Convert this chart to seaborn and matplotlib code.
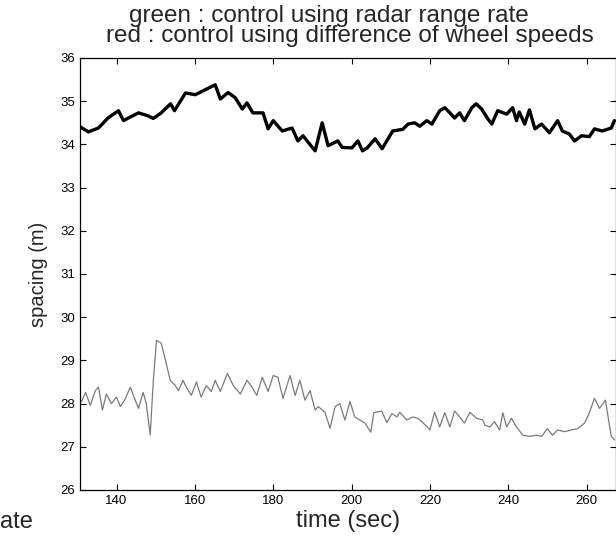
import seaborn as sns
import matplotlib.pyplot as plt
import pandas as pd

# spacing (sec, m)
t_green = [130.3, 132.8, 135.4, 137.8, 140.5, 141.8, 142.8, 145.6, 148.1, 149.4,
           151.4, 153.8, 154.8, 157.6, 160.1, 162.1, 165.2, 166.5, 168.5, 170.3,
           172.1, 173.3, 174.8, 177.4, 178.7, 180.0, 182.3, 184.8, 186.3, 187.6,
           190.7, 192.5, 194.0, 196.5, 197.6, 200.1, 201.6, 202.8, 204.0, 206.0,
           207.8, 210.5, 213.1, 214.4, 216.1, 217.4, 219.2, 220.5, 222.5, 223.8,
           225.1, 226.3, 227.6, 228.8, 230.7, 231.8, 233.2, 234.8, 235.8, 237.3,
           239.6, 241.1, 242.1, 242.8, 244.2, 245.4, 246.8, 248.5, 250.5, 252.6,
           253.8, 255.6, 256.9, 258.7, 260.7, 262.0, 264.0, 266.3, 267.1]
spacing_green = [34.43, 34.29, 34.38, 34.61, 34.78, 34.55, 34.60, 34.73, 34.66, 34.60,
                 34.73, 34.94, 34.78, 35.19, 35.15, 35.24, 35.38, 35.05, 35.20, 35.08,
                 34.82, 34.96, 34.73, 34.73, 34.36, 34.55, 34.31, 34.38, 34.08, 34.20,
                 33.85, 34.50, 33.97, 34.08, 33.93, 33.92, 34.08, 33.85, 33.92, 34.13,
                 33.90, 34.31, 34.35, 34.47, 34.50, 34.42, 34.55, 34.47, 34.78, 34.85,
                 34.73, 34.61, 34.73, 34.55, 34.85, 34.94, 34.82, 34.59, 34.47, 34.78,
                 34.70, 34.85, 34.55, 34.75, 34.47, 34.80, 34.36, 34.47, 34.27, 34.55,
                 34.31, 34.24, 34.08, 34.20, 34.18, 34.36, 34.31, 34.38, 34.55]

t_red = [130.3, 131.1, 132.1, 133.3, 134.6, 135.4, 136.4, 137.4, 138.7, 140.0,
         141.0, 142.3, 143.5, 144.6, 145.6, 146.8, 147.6, 148.6, 149.4, 150.2,
         151.4, 152.5, 153.7, 155.0, 155.8, 157.0, 157.8, 159.1, 160.4, 161.6,
         162.9, 164.2, 165.2, 166.5, 168.3, 169.8, 171.6, 173.3, 174.6, 175.8,
         177.2, 178.7, 180.0, 181.2, 182.5, 184.3, 185.6, 186.8, 188.1, 189.4,
         190.7, 191.5, 193.2, 194.5, 195.8, 197.0, 198.3, 199.6, 200.8, 202.1,
         203.4, 204.9, 205.7, 207.7, 209.0, 210.3, 211.6, 212.3, 214.1, 215.6,
         216.9, 218.2, 220.0, 221.2, 222.5, 223.8, 225.1, 226.3, 227.6, 228.8,
         230.2, 231.9, 233.5, 234.0, 235.3, 236.5, 237.8, 238.6, 239.6, 240.8,
         242.1, 243.7, 245.4, 247.2, 248.5, 250.0, 251.3, 252.6, 254.4, 256.1,
         257.7, 259.5, 260.7, 262.0, 263.3, 264.8, 265.6, 266.3, 267.1]
spacing_red = [28.12, 28.05, 28.26, 27.96, 28.30, 28.38, 27.85, 28.22, 28.00, 28.15,
               27.93, 28.12, 28.38, 28.12, 27.89, 28.26, 28.00, 27.27, 28.54, 29.46,
               29.40, 29.00, 28.54, 28.42, 28.30, 28.54, 28.38, 28.19, 28.50, 28.15,
               28.42, 28.28, 28.54, 28.28, 28.70, 28.42, 28.22, 28.54, 28.38, 28.19,
               28.61, 28.28, 28.65, 28.61, 28.12, 28.65, 28.19, 28.54, 28.08, 28.30,
               27.85, 27.93, 27.80, 27.43, 27.93, 28.00, 27.62, 28.05, 27.69, 27.62,
               27.55, 27.34, 27.79, 27.83, 27.56, 27.77, 27.69, 27.80, 27.62, 27.69,
               27.66, 27.56, 27.39, 27.80, 27.46, 27.79, 27.46, 27.83, 27.69, 27.55,
               27.80, 27.66, 27.62, 27.50, 27.46, 27.58, 27.39, 27.79, 27.46, 27.66,
               27.46, 27.27, 27.24, 27.27, 27.24, 27.42, 27.27, 27.39, 27.35, 27.39,
               27.42, 27.55, 27.79, 28.12, 27.89, 28.08, 27.62, 27.24, 27.16]

x_ticks = [140, 160, 180, 200, 220, 240, 260]
y_ticks = [26, 27, 28, 29, 30, 31, 32, 33, 34, 35, 36]

green = pd.DataFrame({'time': t_green, 'spacing': spacing_green})
red = pd.DataFrame({'time': t_red, 'spacing': spacing_red})

sns.set_style("ticks")
plt.rcParams['font.family'] = ['Liberation Sans', 'DejaVu Sans']

fig = plt.figure(figsize=(6.16, 5.4), dpi=100)
ax = fig.add_axes([0.13, 0.0926, 0.87, 0.80])

sns.lineplot(data=green, x='time', y='spacing', color='black', linewidth=2.4, ax=ax)
sns.lineplot(data=red, x='time', y='spacing', color='#7a7a7a', linewidth=0.9, ax=ax)

ax.set_xlim(130.7, 267.5)
ax.set_ylim(26, 36)
ax.set_xticks(x_ticks)
ax.set_yticks(y_ticks)
ax.tick_params(direction='in', top=True, right=True, length=4, width=0.8,
               labelsize=9.5, colors='black')
for s in ax.spines.values():
    s.set_linewidth(0.9)
    s.set_color('black')

ax.set_xlabel('time (sec)', fontsize=17, labelpad=2)
ax.set_ylabel('spacing (m)', fontsize=14.5, labelpad=9)

fig.text(329 / 616, 1 - 16 / 540, 'green : control using radar range rate',
         ha='center', va='center', fontsize=17.5)
fig.text(350 / 616, 1 - 36 / 540, 'red : control using difference of wheel speeds',
         ha='center', va='center', fontsize=17.5)
fig.text(0.0, 1 - 522 / 540, 'ate', ha='left', va='center', fontsize=17)

fig.savefig('out.png', dpi=100)
